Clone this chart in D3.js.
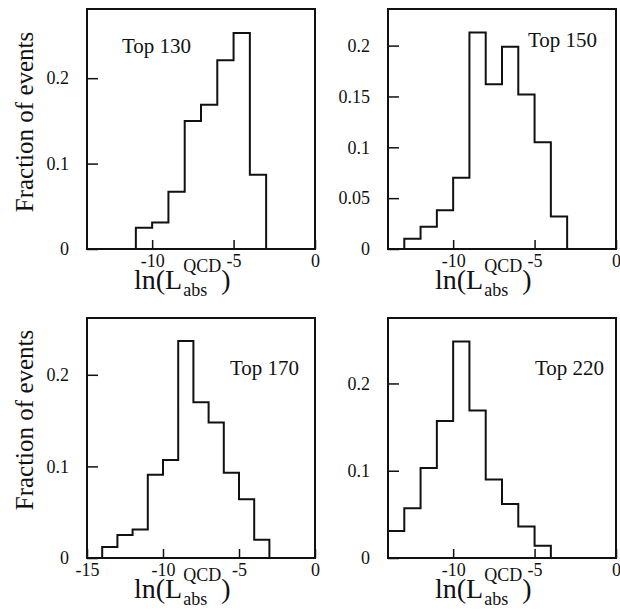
<!DOCTYPE html>
<html>
<head>
<meta charset="utf-8">
<script src="https://cdn.jsdelivr.net/npm/d3@7"></script>
<style>
    body { margin: 0; background: #fff; }
    svg text { font-family: "Liberation Serif", "Times New Roman", serif; fill: #111; }
</style>
</head>
<body>
<div id="chart"></div>
<script>

// Panel titles
const titles = ["Top 130", "Top 150", "Top 170", "Top 220"];

// Bin edges (ln L) and fraction of events per bin
const edges130 = [-11, -10, -9, -8, -7, -6, -5, -4, -3];
const frac130 = [0.025, 0.031, 0.067, 0.150, 0.169, 0.221, 0.253, 0.087];

const edges150 = [-13, -12, -11, -10, -9, -8, -7, -6, -5, -4, -3];
const frac150 = [0.010, 0.022, 0.038, 0.070, 0.213, 0.162, 0.199, 0.152, 0.105, 0.032];

const edges170 = [-14, -13, -12, -11, -10, -9, -8, -7, -6, -5, -4, -3];
const frac170 = [0.012, 0.025, 0.031, 0.091, 0.107, 0.237, 0.170, 0.148, 0.093, 0.064, 0.020];

const edges220 = [-14, -13, -12, -11, -10, -9, -8, -7, -6, -5, -4];
const frac220 = [0.031, 0.057, 0.103, 0.157, 0.248, 0.169, 0.090, 0.062, 0.036, 0.014];

// Axis ranges and ticks
const xMin = [-14, -14, -15, -14];
const yMax = [0.281, 0.236, 0.262, 0.275];
const xTicks = [[-10, -5, 0], [-10, -5, 0], [-15, -10, -5, 0], [-10, -5, 0]];
const yTicks = [[0, 0.1, 0.2], [0, 0.05, 0.1, 0.15, 0.2], [0, 0.1, 0.2], [0, 0.1, 0.2]];
const yTickLabels = [["0", "0.1", "0.2"], ["0", "0.05", "0.1", "0.15", "0.2"], ["0", "0.1", "0.2"], ["0", "0.1", "0.2"]];

const allEdges = [edges130, edges150, edges170, edges220];
const allFrac = [frac130, frac150, frac170, frac220];

const svg = d3.select("#chart").append("svg")
    .attr("width", 620)
    .attr("height", 614);

// frame boxes of the four panels (left, top)
const boxW = 228, boxH = 240;
const origins = [[87, 9], [388, 9], [87, 318], [388, 318]];

titles.forEach((title, i) => {
    const [left, top] = origins[i];
    const g = svg.append("g").attr("transform", "translate(" + left + "," + top + ")");

    const x = d3.scaleLinear().domain([xMin[i], 0]).range([0, boxW]);
    const y = d3.scaleLinear().domain([0, yMax[i]]).range([boxH, 0]);

    // y axis, ticks pointing inwards
    const yAxis = d3.axisLeft(y)
        .tickValues(yTicks[i])
        .tickFormat((d, k) => yTickLabels[i][k])
        .tickSize(-11)
        .tickPadding(18);
    const ya = g.append("g").call(yAxis);
    ya.select(".domain").remove();
    ya.selectAll("line").attr("stroke", "#111").attr("stroke-width", 1.5);
    ya.selectAll("text").style("font-size", "18px");

    // x axis, ticks pointing inwards
    const xAxis = d3.axisBottom(x)
        .tickValues(xTicks[i])
        .tickFormat(d => d === 0 ? "0" : "-" + Math.abs(d))
        .tickSize(-9)
        .tickPadding(5);
    const xa = g.append("g").attr("transform", "translate(0," + boxH + ")").call(xAxis);
    xa.select(".domain").remove();
    xa.selectAll("line").attr("stroke", "#111").attr("stroke-width", 1.5);
    xa.selectAll("text").style("font-size", "18px");

    // histogram outline
    const edges = allEdges[i], frac = allFrac[i];
    const pts = [[edges[0], 0]];
    frac.forEach((f, k) => {
        pts.push([edges[k], f], [edges[k + 1], f]);
    });
    pts.push([edges[edges.length - 1], 0]);

    g.append("path")
        .attr("d", d3.line().x(d => x(d[0])).y(d => y(d[1]))(pts))
        .attr("fill", "none")
        .attr("stroke", "#111")
        .attr("stroke-width", 2);

    // frame
    g.append("rect")
        .attr("width", boxW)
        .attr("height", boxH)
        .attr("fill", "none")
        .attr("stroke", "#111")
        .attr("stroke-width", 2);

    // panel title
    const titlePos = [[35, 44], [140, 38], [143, 57], [147, 57]];
    g.append("text")
        .attr("x", titlePos[i][0])
        .attr("y", titlePos[i][1])
        .style("font-size", "21px")
        .text(title);

    // x axis label: ln(L^QCD_abs)
    const lx = 47, ly = boxH + 40;
    const main = g.append("text")
        .attr("x", lx)
        .attr("y", ly)
        .style("font-size", "28px")
        .text("ln(L");
    const w = main.node().getComputedTextLength();
    const sup = g.append("text")
        .attr("x", lx + w + 1)
        .attr("y", ly - 17)
        .style("font-size", "18px")
        .text("QCD");
    const sub = g.append("text")
        .attr("x", lx + w + 1)
        .attr("y", ly + 7)
        .style("font-size", "18px")
        .text("abs");
    const sw = Math.max(sup.node().getComputedTextLength(), sub.node().getComputedTextLength());
    g.append("text")
        .attr("x", lx + w + 1 + sw)
        .attr("y", ly)
        .style("font-size", "28px")
        .text(")");
});

// y axis labels, one per row
[122, 420].forEach(cy => {
    svg.append("text")
        .attr("transform", "translate(33," + cy + ") rotate(-90)")
        .style("text-anchor", "middle")
        .style("font-size", "25px")
        .text("Fraction of events");
});

</script>
</body>
</html>
